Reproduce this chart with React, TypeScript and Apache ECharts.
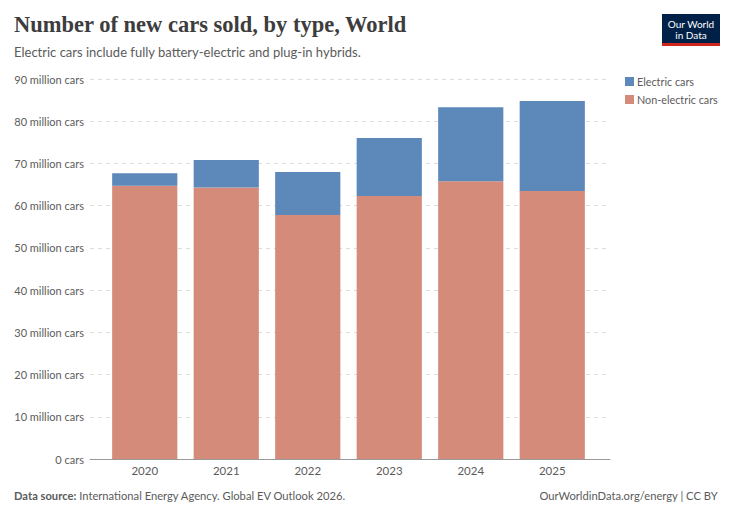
import React, { useEffect, useRef } from "react";
import * as echarts from "echarts";

const years = ["2020", "2021", "2022", "2023", "2024", "2025"];
// values in millions of cars
const nonElectric = [64.7, 64.3, 57.8, 62.3, 65.8, 63.5];
const electric = [3.0, 6.5, 10.2, 13.7, 17.5, 21.3];
const seriesNames = ["Electric cars", "Non-electric cars"];
const yTicks = [0, 10, 20, 30, 40, 50, 60, 70, 80, 90];

const title = "Number of new cars sold, by type, World";
const subtitle = "Electric cars include fully battery-electric and plug-in hybrids.";
const sourceLabel = "Data source:";
const sourceText = " International Energy Agency. Global EV Outlook 2026.";
const creditText = "OurWorldinData.org/energy | CC BY";

export default function App() {
  const ref = useRef<HTMLDivElement>(null);
  useEffect(() => {
    document.body.style.margin = "0";
    if (!ref.current) return;
    const chart = echarts.init(ref.current, null, { renderer: "svg" });
    const font = "Lato, 'Noto Sans', sans-serif";
    const yMax = yTicks[yTicks.length - 1];
    chart.setOption({
      animation: false,
      textStyle: { fontFamily: font },
      grid: [
        { left: 104, right: 139, top: 79, bottom: 59, containLabel: false },
        { left: 90, right: 122, top: 79, bottom: 59, containLabel: false },
      ],
      legend: {
        data: seriesNames,
        orient: "vertical",
        left: 620,
        top: 71,
        itemWidth: 9,
        itemHeight: 9,
        itemGap: 7,
        icon: "rect",
        textStyle: { color: "#5b5b5b", fontSize: 10.8, fontFamily: font, padding: [0, 0, 0, -2] },
      },
      xAxis: [
        {
          type: "category",
          gridIndex: 0,
          data: years,
          axisLine: { show: false },
          axisTick: { show: false },
          axisLabel: { color: "#5b5b5b", fontSize: 11.5, margin: 5 },
        },
        {
          type: "category",
          gridIndex: 1,
          data: years,
          axisLine: { lineStyle: { color: "#999", width: 1 } },
          axisTick: { show: false },
          axisLabel: { show: false },
        },
      ],
      yAxis: [
        {
          type: "value",
          gridIndex: 0,
          min: 0,
          max: yMax,
          interval: 10,
          axisLine: { show: false },
          axisTick: { show: false },
          axisLabel: { show: false },
          splitLine: { show: false },
        },
        {
          type: "value",
          gridIndex: 1,
          min: 0,
          max: yMax,
          interval: 10,
          axisLine: { show: false },
          axisTick: { show: false },
          axisLabel: {
            color: "#5b5b5b",
            fontSize: 11,
            margin: 6,
            formatter: (v: number) => (v === 0 ? "0 cars" : `${v} million cars`),
          },
          splitLine: { lineStyle: { color: "#dddddd", type: [4, 4] } },
        },
      ],
      series: [
        {
          name: "Non-electric cars",
          type: "bar",
          stack: "total",
          xAxisIndex: 0,
          yAxisIndex: 0,
          data: nonElectric,
          barCategoryGap: "20%",
          itemStyle: { color: "#d48b7a" },
        },
        {
          name: "Electric cars",
          type: "bar",
          stack: "total",
          xAxisIndex: 0,
          yAxisIndex: 0,
          data: electric,
          itemStyle: { color: "#5d89ba" },
        },
      ],
      graphic: [
        {
          type: "text",
          left: 14,
          top: 13,
          style: {
            text: title,
            fontFamily: "'Liberation Serif', 'DejaVu Serif', serif",
            fontSize: 22.5,
            fontWeight: "bold",
            fill: "#3d3d3d",
          },
        },
        {
          type: "text",
          left: 14,
          top: 45,
          style: { text: subtitle, fontFamily: font, fontSize: 13, fill: "#5b5b5b" },
        },
        {
          type: "group",
          left: 662,
          top: 14,
          children: [
            { type: "rect", shape: { x: 0, y: 0, width: 58, height: 29 }, style: { fill: "#002147" } },
            { type: "rect", shape: { x: 0, y: 29, width: 58, height: 3 }, style: { fill: "#ce261e" } },
            {
              type: "text",
              x: 29,
              y: 4,
              style: {
                text: "Our World\nin Data",
                fill: "#ffffff",
                fontFamily: font,
                fontSize: 10,
                lineHeight: 11,
                align: "center",
              },
            },
          ],
        },
        {
          type: "text",
          left: 14,
          top: 490,
          style: {
            text: `{b|${sourceLabel}}${sourceText}`,
            fontFamily: font,
            fontSize: 11.2,
            fill: "#5b5b5b",
            rich: { b: { fontWeight: "bold", fontFamily: font, fontSize: 11.2, fill: "#5b5b5b" } },
          },
        },
        {
          type: "text",
          right: 14,
          top: 490,
          style: { text: creditText, fontFamily: font, fontSize: 11.2, fill: "#5b5b5b" },
        },
      ],
    });
    return () => chart.dispose();
  }, []);
  return <div ref={ref} style={{ width: 732, height: 518 }} />;
}
